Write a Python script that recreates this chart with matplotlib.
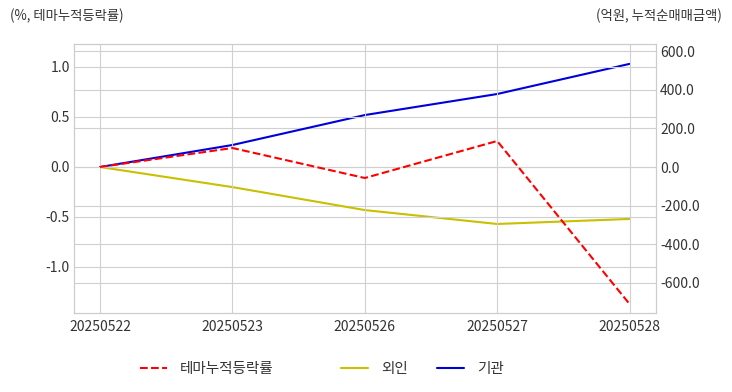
import matplotlib
matplotlib.use("Agg")
import matplotlib.pyplot as plt
import seaborn as sns

sns.set_style("whitegrid")
plt.rcParams['font.family'] = ['Noto Sans CJK KR', 'DejaVu Sans']
plt.rcParams['axes.unicode_minus'] = False

dates = ["20250522", "20250523", "20250526", "20250527", "20250528"]
theme_pct = [0.0, 0.19, -0.11, 0.26, -1.37]
foreign = [0.0, -104.0, -223.0, -295.0, -269.0]
institution = [0.0, 114.0, 269.0, 378.0, 534.0]

fig = plt.figure(figsize=(7.32, 3.92), dpi=100)
ax = fig.add_axes([74/732, 1-313/392, (656-74)/732, (313-44)/392])
ax2 = ax.twinx()

x = list(range(len(dates)))
l1, = ax.plot(x, theme_pct, color='red', linestyle='--', linewidth=1.5, label='테마누적등락률')
l2, = ax2.plot(x, foreign, color='#c8c000', linewidth=1.5, label='외인')
l3, = ax2.plot(x, institution, color='#0000dd', linewidth=1.5, label='기관')

ax.set_xticks(x)
ax.set_xticklabels(dates)
ax.set_xlim(-0.197, 4.2)
ax.set_ylim(-1.46, 1.23)
ax.set_yticks([-1.0, -0.5, 0.0, 0.5, 1.0])
ax.set_yticklabels([f"{v:.1f}" for v in [-1.0, -0.5, 0.0, 0.5, 1.0]])
ax2.set_ylim(-756, 637)
r_ticks = [-600, -400, -200, 0, 200, 400, 600]
ax2.set_yticks(r_ticks)
ax2.set_yticklabels([f"{v:.1f}" for v in r_ticks])

for a in (ax, ax2):
    a.tick_params(labelsize=10, colors='#333333', length=0, pad=3)
    for s in a.spines.values():
        s.set_color('#cccccc')
    a.grid(True, color='#d0d0d0', linewidth=0.8)
ax.tick_params(axis='x', pad=5)
ax.set_zorder(ax2.get_zorder() + 1)
ax.patch.set_visible(False)

fig.text(10/732, 1-16/392, "(%, 테마누적등락률)", fontsize=9.6, color='#333333', va='center', ha='left')
fig.text(722/732, 1-16/392, "(억원, 누적순매매금액)", fontsize=9.6, color='#333333', va='center', ha='right')

leg_kw = dict(loc='center left', frameon=False, fontsize=10.5, handlelength=1.85,
              handletextpad=0.9, borderpad=0, borderaxespad=0, columnspacing=2.0)
leg1 = fig.legend([l1], ['테마누적등락률'], bbox_to_anchor=(140/732, 1-369/392), ncol=1, **leg_kw)
leg2 = fig.legend([l2, l3], ['외인', '기관'], bbox_to_anchor=(341/732, 1-369/392), ncol=2, **leg_kw)
for leg in (leg1, leg2):
    for t in leg.get_texts():
        t.set_color('#333333')

fig.savefig("out.png", dpi=100)
